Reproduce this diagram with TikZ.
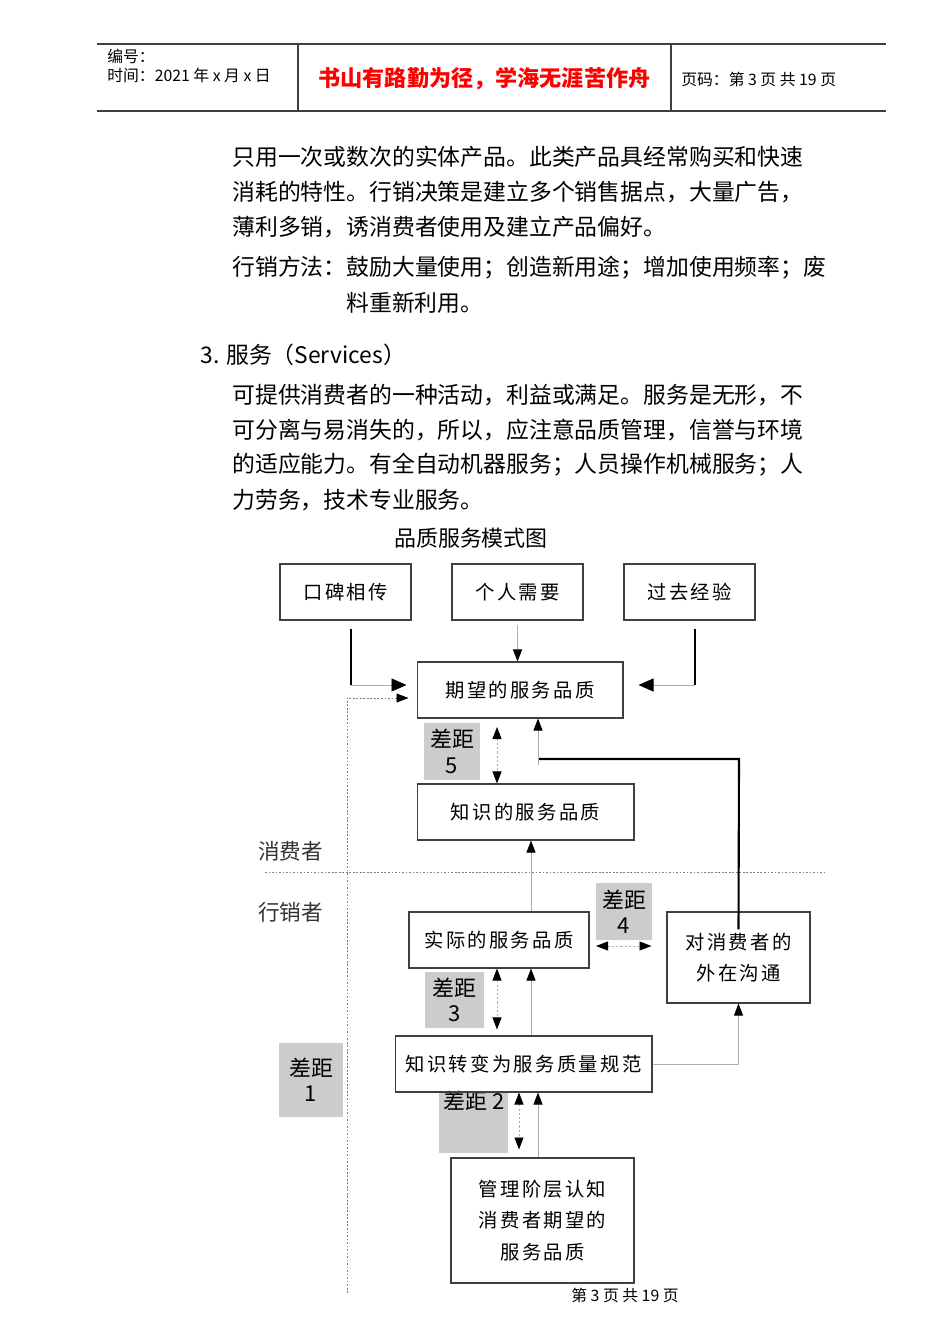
\documentclass[tikz,border=0pt]{standalone}
\usepackage{fontspec}
\setmainfont{Noto Sans CJK SC}
\newfontfamily\boxfont{Noto Sans CJK SC}[LetterSpace=12]
\usepackage{xcolor}
\usetikzlibrary{arrows.meta,positioning}
\definecolor{gapgray}{gray}{0.8}
\definecolor{linegray}{gray}{0.68}
\definecolor{framegray}{gray}{0.25}

\begin{document}
\begin{tikzpicture}[x=0.02cm, y=-0.02cm]
        \tikzset{box/.style={draw=framegray, line width=0.6pt, inner sep=0pt, align=center, font=\boxfont\fontsize{11}{18}\selectfont}}
        \tikzset{gap/.style={fill=gapgray, inner sep=0pt, align=center, font=\fontsize{12.5}{14.5}\selectfont}}
        \tikzset{body/.style={anchor=west, inner sep=0pt, font=\fontsize{13}{16}\selectfont}}
        \tikzset{small/.style={anchor=west, inner sep=0pt, font=\fontsize{9}{10}\selectfont}}
        \tikzset{heavy/.style={line width=1.2pt, black}}
        \tikzset{feed/.style={draw=linegray, line width=0.5pt, -{Triangle[length=0.24cm, width=0.18cm, color=black]}}}
        \tikzset{bigfeed/.style={draw=linegray, line width=0.5pt, -{Triangle[length=0.3cm, width=0.26cm, color=black]}}}
        \tikzset{gapline/.style={draw=linegray, line width=0.5pt, dash pattern=on 1.2pt off 1.2pt, {Triangle[length=0.24cm, width=0.18cm, color=black]}-{Triangle[length=0.24cm, width=0.18cm, color=black]}}}
        \tikzset{divider/.style={draw=gray, line width=0.4pt, dash pattern=on 1pt off 1pt}}

        \useasboundingbox (0,0) rectangle (950,1344);

        % Page header
        \draw[framegray, line width=0.6pt] (97,44) -- (886,44) (97,111) -- (886,111) (298,44) -- (298,111) (671,44) -- (671,111);
        \node[small] (hdnum) at (107,56) {编号：};
        \node[small] (hdtime) at (107,75) {时间：2021 年 x 月 x 日};
        \node[inner sep=0pt, text=red, font=\bfseries\fontsize{12.6}{14}\selectfont] (hdmotto) at (484.5,79) {书山有路勤为径，学海无涯苦作舟};
        \node[small] (hdpage) at (681,79) {页码：第 3 页 共 19 页};

        % Body text
        \node[body] (l1) at (232,157) {只用一次或数次的实体产品。此类产品具经常购买和快速};
        \node[body] (l2) at (232,192) {消耗的特性。行销决策是建立多个销售据点，大量广告，};
        \node[body] (l3) at (232,227) {薄利多销，诱消费者使用及建立产品偏好。};
        \node[body] (l4) at (232,268) {行销方法：鼓励大量使用；创造新用途；增加使用频率；废};
        \node[body] (l5) at (346,303) {料重新利用。};
        \node[body] (l6) at (200,355) {3. 服务（Services）};
        \node[body] (l7) at (232,395) {可提供消费者的一种活动，利益或满足。服务是无形，不};
        \node[body] (l8) at (232,430) {可分离与易消失的，所以，应注意品质管理，信誉与环境};
        \node[body] (l9) at (232,465) {的适应能力。有全自动机器服务；人员操作机械服务；人};
        \node[body] (l10) at (232,500) {力劳务，技术专业服务。};
        \node[inner sep=0pt, font=\fontsize{12.5}{14}\selectfont] (title) at (471,538) {品质服务模式图};

        % Gap boxes
        \node[gap, minimum width=1.12cm, minimum height=1.14cm] (gap5) at (452,751.5) {差距\\5};
        \node[gap, minimum width=1.12cm, minimum height=1.14cm] (gap4) at (624,911.5) {差距\\4};
        \node[gap, minimum width=1.18cm, minimum height=1.12cm] (gap3) at (454.5,1000) {差距\\3};
        \node[gap, minimum width=1.28cm, minimum height=1.48cm] (gap1) at (311,1080) {差距\\1};
        \node[gap, minimum width=1.38cm, minimum height=1.2cm] (gap2) at (473.5,1123) {};
        \node[inner sep=0pt, font=\fontsize{12.5}{14}\selectfont] (gap2txt) at (474,1101) {差距 2};

        % Service quality boxes
        \node[box, minimum width=2.62cm, minimum height=1.12cm] (wom) at (345.5,592) {口碑相传};
        \node[box, minimum width=2.62cm, minimum height=1.12cm] (need) at (517.5,592) {个人需要};
        \node[box, minimum width=2.62cm, minimum height=1.12cm] (past) at (689.5,592) {过去经验};
        \node[box, minimum width=4.12cm, minimum height=1.12cm] (expect) at (520,690) {期望的服务品质};
        \node[box, minimum width=4.34cm, minimum height=1.12cm] (perceive) at (525.5,812) {知识的服务品质};
        \node[box, minimum width=3.6cm, minimum height=1.12cm] (actual) at (499,940) {实际的服务品质};
        \node[box, minimum width=2.86cm, minimum height=1.82cm] (comm) at (738.5,957.5) {对消费者的\\外在沟通};
        \node[box, minimum width=5.14cm, minimum height=1.12cm] (spec) at (523.5,1064) {知识转变为服务质量规范};
        \node[box, minimum width=3.66cm, minimum height=2.5cm] (mgmt) at (542.5,1220.5) {管理阶层认知\\消费者期望的\\服务品质};

        % Consumer / marketer split
        \node[inner sep=0pt, text=black!80, font=\fontsize{12.3}{14}\selectfont] (cons) at (290.5,851) {消费者};
        \node[inner sep=0pt, text=black!80, font=\fontsize{12.3}{14}\selectfont] (mkt) at (290.5,912) {行销者};
        \draw[divider] (265,872) -- (825,872);
        \coordinate (fbstart) at (347,1293);
        \draw[divider, -{Triangle[length=0.24cm, width=0.18cm, color=black]}] (fbstart) |- ([xshift=-0.16cm, yshift=-0.16cm]expect.west);

        % Inputs to expected quality
        \coordinate (womc) at (351,685);
        \coordinate (pastc) at (695,685);
        \draw[heavy] ([yshift=-0.16cm]wom.south -| womc) -- (womc);
        \draw[bigfeed] (womc) -- ([xshift=-0.2cm]expect.west |- womc);
        \draw[heavy] ([yshift=-0.16cm]past.south -| pastc) -- (pastc);
        \draw[bigfeed] (pastc) -- ([xshift=0.3cm]expect.east |- pastc);
        \draw[feed] ([yshift=-0.08cm]need.south) -- (need.south |- expect.north);

        % External communication loop
        \coordinate (commc) at (739,759);
        \coordinate (loopc) at (538,759);
        \draw[heavy] ([yshift=-0.36cm]comm.north) -- (commc) -- (loopc);
        \draw[feed] ([yshift=-0.12cm]loopc) -- (expect.south -| loopc);
        \draw[feed] (spec.east) -| (comm.south);

        % Upward flow
        \coordinate (riseA) at (531,0);
        \coordinate (riseB) at (538,0);
        \draw[feed] (riseA |- actual.north) -- (riseA |- perceive.south);
        \draw[feed] (riseA |- spec.north) -- (riseA |- actual.south);
        \draw[feed] (riseB |- mgmt.north) -- (riseB |- spec.south);

        % Gaps
        \coordinate (g5) at (497,727);
        \coordinate (g4) at (596,946);
        \coordinate (g3) at (497,0);
        \coordinate (g2) at (519,0);
        \draw[gapline] (g5) -- (g5 |- perceive.north);
        \draw[gapline] (g4) -- ([xshift=-0.3cm]comm.west |- g4);
        \draw[gapline] (g3 |- actual.south) -- ([yshift=0.12cm]g3 |- spec.north);
        \draw[gapline] (g2 |- spec.south) -- ([yshift=0.16cm]g2 |- mgmt.north);

        % Page footer
        \node[inner sep=0pt, font=\fontsize{9}{10}\selectfont] (foot) at (625,1295) {第 3 页 共 19 页};
    \end{tikzpicture}
\end{document}
